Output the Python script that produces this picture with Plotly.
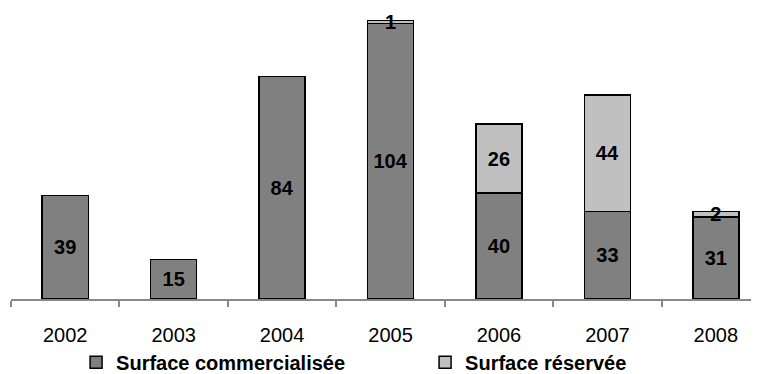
import plotly.graph_objects as go

years = ["2002", "2003", "2004", "2005", "2006", "2007", "2008"]
commercialisee = [39, 15, 84, 104, 40, 33, 31]
reservee = [None, None, None, 1, 26, 44, 2]

font_family = "Arial, Liberation Sans, sans-serif"

fig = go.Figure()
fig.add_trace(go.Bar(
    x=years, y=commercialisee, name="Surface commercialisée",
    marker=dict(color="#808080", line=dict(color="#000000", width=1.5)),
    text=commercialisee, textposition="inside", insidetextanchor="middle", textangle=0,
    textfont=dict(family=font_family, size=20, color="#000000", weight="bold"),
    cliponaxis=False,
))
fig.add_trace(go.Bar(
    x=years, y=reservee, name="Surface réservée",
    marker=dict(color="#C0C0C0", line=dict(color="#000000", width=1.5)),
    text=reservee, textposition="inside", insidetextanchor="middle", textangle=0,
    textfont=dict(family=font_family, size=20, color="#000000", weight="bold"),
    cliponaxis=False,
))

fig.update_layout(
    width=751, height=366,
    barmode="stack", bargap=0.575,
    margin=dict(l=3, r=0, t=0, b=75, autoexpand=False),
    plot_bgcolor="white", paper_bgcolor="white",
    uniformtext=dict(minsize=20, mode="show"),
    font=dict(family=font_family, size=20, color="#000000"),
    showlegend=True,
    legend=dict(
        orientation="h", x=0.087, xanchor="left", y=-0.217, yanchor="middle",
        font=dict(family=font_family, size=20, color="#000000", weight="bold"),
        itemwidth=30, traceorder="normal",
        entrywidth=304, entrywidthmode="pixels",
        bgcolor="rgba(0,0,0,0)",
    ),
    xaxis=dict(
        type="category", range=[-0.5, 6.398],
        showline=True, linecolor="#888888", linewidth=1.5,
        ticks="outside", tickson="boundaries", ticklen=6, tickcolor="#888888", tickwidth=1.5,
        showgrid=False, ticklabelstandoff=17,
        tickfont=dict(family=font_family, size=20, color="#000000"),
    ),
    yaxis=dict(
        range=[0, 109.8], showline=False, showgrid=False, zeroline=False,
        showticklabels=False, ticks="",
    ),
)

fig.write_html("out.html")
